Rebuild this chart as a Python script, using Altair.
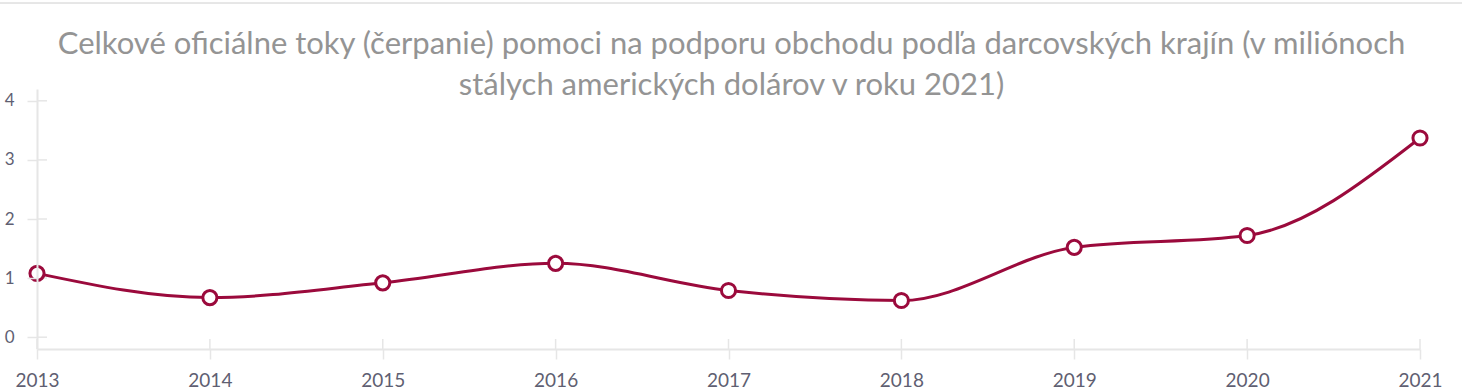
import altair as alt
import pandas as pd

years = [2013, 2014, 2015, 2016, 2017, 2018, 2019, 2020, 2021]
values = [1.08, 0.67, 0.92, 1.25, 0.79, 0.62, 1.52, 1.72, 3.37]
y_ticks = [0, 1, 2, 3, 4]
title_lines = [
    "Celkové oficiálne toky (čerpanie) pomoci na podporu obchodu podľa darcovských krajín (v miliónoch",
    "stálych amerických dolárov v roku 2021)",
]

LINE = "#9b0a3c"
AXIS = "#e6e6e6"
LABEL = "#5f5f72"
FONT = "Lato"

df = pd.DataFrame({"year": years, "value": values})
ydf = pd.DataFrame({"t": y_ticks})
xdf = pd.DataFrame({"year": years})

W, H = 1383, 260

xscale = alt.Scale(domain=[2013, 2021], nice=False, zero=False)
yscale = alt.Scale(domain=[-0.2, 4.2], nice=False, zero=False)

xenc = alt.X(
    "year:Q",
    scale=xscale,
    axis=alt.Axis(
        values=years, format="d", title=None, grid=False,
        domainColor=AXIS, domainWidth=2, tickColor=AXIS, tickWidth=1.5, tickSize=10,
        labelColor=LABEL, labelFontSize=19, labelFont=FONT, labelPadding=12,
        labelFlush=False, labelOverlap=False,
    ),
)
yenc = alt.Y(
    "value:Q",
    scale=yscale,
    axis=alt.Axis(
        values=y_ticks, format="d", title=None, grid=False, zindex=1,
        domainColor=AXIS, domainWidth=2, tickColor=AXIS, tickWidth=1.5, tickSize=10,
        labelColor=LABEL, labelFontSize=17, labelFont=FONT, labelPadding=13,
    ),
)

line = alt.Chart(df).mark_line(
    interpolate="monotone", color=LINE, strokeWidth=3
).encode(x=xenc, y=yenc)

points = alt.Chart(df).mark_point(
    shape="circle", filled=True, fill="white", stroke=LINE, strokeWidth=3,
    size=200, opacity=1,
).encode(x=alt.X("year:Q", scale=xscale), y=alt.Y("value:Q", scale=yscale))

ytick_in = alt.Chart(ydf).mark_rule(color=AXIS, strokeWidth=1.5).encode(
    y=alt.Y("t:Q", scale=yscale), x=alt.value(0), x2=alt.value(10)
)
xtick_in = alt.Chart(xdf).mark_rule(color=AXIS, strokeWidth=1.5).encode(
    x=alt.X("year:Q", scale=xscale), y=alt.value(H), y2=alt.value(H - 10)
)
top_border = alt.Chart(xdf).mark_rule(color=AXIS, strokeWidth=1).encode(
    x=alt.value(-37), x2=alt.value(W + 42), y=alt.value(-86)
)

chart = alt.layer(top_border, ytick_in, xtick_in, line, points).properties(
    width=W,
    height=H,
    background="white",
    autosize=alt.AutoSizeParams(type="none"),
    padding={"left": 37, "top": 89, "right": 42, "bottom": 41},
    title=alt.TitleParams(
        text=title_lines,
        color="#949494",
        font=FONT,
        fontSize=31,
        fontWeight="normal",
        lineHeight=41,
        anchor="middle",
        frame="group",
        baseline="alphabetic",
        offset=0,
        dy=123,
        dx=3,
    ),
).configure_view(strokeWidth=0)

chart.save("out.html", embed_options={"renderer": "svg", "actions": False})
